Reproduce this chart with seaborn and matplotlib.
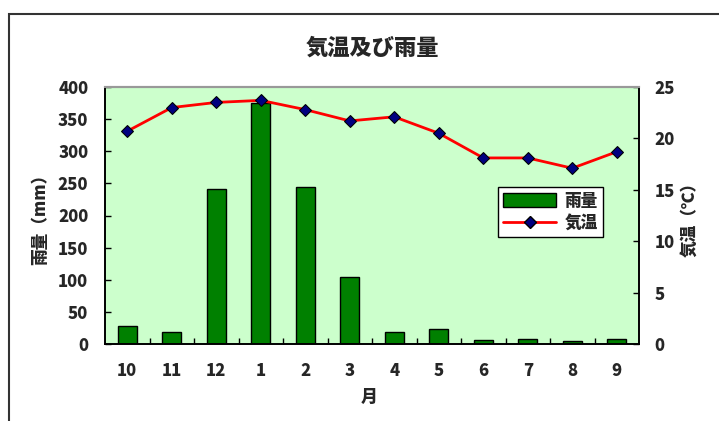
import matplotlib
matplotlib.use("Agg")

import pandas as pd
import matplotlib.pyplot as plt
import seaborn as sns
from matplotlib.patches import Rectangle, Patch
from matplotlib.lines import Line2D
from matplotlib.ticker import FixedLocator

sns.set_theme(style="white")
plt.rcParams["font.family"] = ["Noto Sans CJK JP", "DejaVu Sans"]
plt.rcParams["font.weight"] = "heavy"

# ---------- data ----------
months = ["10", "11", "12", "1", "2", "3", "4", "5", "6", "7", "8", "9"]
rain_mm = [28, 19, 242, 375, 244, 104, 19, 23, 6, 8, 4, 8]
temp_c = [20.7, 23.0, 23.5, 23.7, 22.8, 21.7, 22.1, 20.5, 18.1, 18.1, 17.1, 18.7]

df = pd.DataFrame({"month": months, "rain": rain_mm, "temp": temp_c})

W = "heavy"

fig = plt.figure(figsize=(7.19, 4.21), dpi=100)
fig.patch.set_facecolor("white")

# outer chart frame
fig.patches.append(Rectangle((9 / 719, -0.05), 1.0, (421 - 14) / 421 + 0.05,
                             transform=fig.transFigure, fill=False,
                             edgecolor="#333333", linewidth=1.5))

ax = fig.add_axes([105 / 719, (421 - 344) / 421, 534 / 719, 257 / 421])
ax.set_facecolor("#CCFFCC")

sns.barplot(data=df, x="month", y="rain", order=months, color="#008000",
            edgecolor="black", linewidth=1, width=0.43, saturation=1, ax=ax)
ax.set_ylim(0, 400)
ax.set_xlim(-0.5, len(months) - 0.5)
ax.set_yticks(range(0, 401, 50))

ax2 = ax.twinx()
sns.lineplot(data=df, x="month", y="temp", sort=False, color="red",
             linewidth=2, marker="D", markersize=6,
             markerfacecolor="#000080", markeredgecolor="black", ax=ax2)
ax2.set_ylim(0, 25)
ax2.set_yticks(range(0, 26, 5))
ax2.set_xlim(-0.5, len(months) - 0.5)

# spines
for a in (ax, ax2):
    for s in ("left", "bottom", "right"):
        a.spines[s].set_color("black")
        a.spines[s].set_linewidth(1.2)
    a.spines["top"].set_color("#999999")
    a.spines["top"].set_linewidth(1.5)

# ticks
ax.tick_params(axis="y", direction="in", length=4, width=1, color="black",
               labelsize=12, pad=12, left=True)
ax.tick_params(axis="x", length=0, labelsize=12, pad=13)
ax.xaxis.set_minor_locator(FixedLocator([i + 0.5 for i in range(len(months) - 1)]))
ax.tick_params(axis="x", which="minor", direction="in", length=4, width=1,
               color="black", bottom=True)
ax2.tick_params(axis="y", direction="in", length=4, width=1, color="black",
                labelsize=12, pad=11, right=True)
for lab in ax.get_xticklabels() + ax.get_yticklabels() + ax2.get_yticklabels():
    lab.set_fontweight(W)

ax.set_xlabel("月", fontsize=12, fontweight=W)
ax.xaxis.set_label_coords(0.495, -0.17)
ax.set_ylabel("雨量（mm）", fontsize=12, fontweight=W)
ax.yaxis.set_label_coords(-0.105, 0.5)
ax2.set_ylabel("気温（℃）", fontsize=12, fontweight=W, rotation=90)
ax2.yaxis.set_label_coords(1.077, 0.5)

fig.text(372 / 719, 1 - 48 / 421, "気温及び雨量", ha="center", va="center",
         fontsize=16, fontweight=W)

handles = [Patch(facecolor="#008000", edgecolor="black", linewidth=1),
           Line2D([0], [0], color="red", linewidth=2, marker="D", markersize=6,
                  markerfacecolor="#000080", markeredgecolor="black")]
leg = ax2.legend(handles, ["雨量", "気温"], loc="upper left",
                 bbox_to_anchor=((498 - 105) / 534, (344 - 187) / 257),
                 borderaxespad=0,
                 frameon=True, fancybox=False, framealpha=1,
                 edgecolor="black", prop={"size": 12, "weight": W},
                 handlelength=3.2, handleheight=0.9, handletextpad=0.5,
                 borderpad=0.3, labelspacing=0.25)
leg.get_frame().set_linewidth(1)

fig.savefig("out.png", dpi=100)
